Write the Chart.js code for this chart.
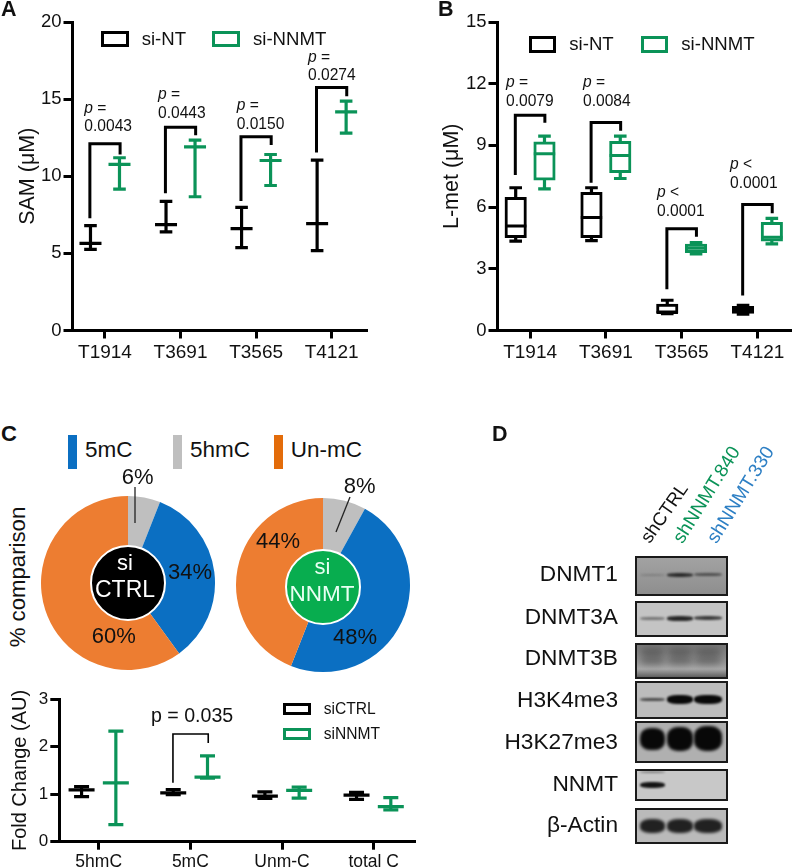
<!DOCTYPE html>
<html>
<head>
<meta charset="utf-8">
<title>NNMT panels</title>
<script src="https://cdn.jsdelivr.net/npm/chart.js@4/dist/chart.umd.min.js"></script>
<style>
  html, body { margin: 0; padding: 0; background: #fff; }
  #page { position: relative; width: 792px; height: 868px; overflow: hidden; font-family: "Liberation Sans", Arial, sans-serif; color: #111; }
  #page canvas { position: absolute; }
  .label { position: absolute; white-space: nowrap; line-height: 1; }
  .legend-box { position: absolute; box-sizing: border-box; border-style: solid; background: #fff; }
  .badge { position: absolute; box-sizing: border-box; border-radius: 50%; border: 2px solid #fff; }
  .blot { position: absolute; box-sizing: border-box; border: 2px solid #1a1a1a; overflow: hidden; }
  .band { position: absolute; border-radius: 40%; background: #000; }
  #leaders { position: absolute; left: 0; top: 0; }
</style>
</head>
<body>
<div id="page"></div>
<script>
const BLACK = '#000000';
const GREEN = '#0b9358';
const BLUE = '#0b6fc2';
const GREY = '#bfbfbf';
const ORANGE = '#ed7d31';

// Panel A, SAM (uM)
const cellLines = ['T1914', 'T3691', 'T3565', 'T4121'];
const samNtLow = [5.26, 6.4, 5.37, 5.18];
const samNtMid = [5.65, 6.86, 6.6, 6.93];
const samNtHigh = [6.8, 8.37, 7.98, 11.05];
const samKdLow = [9.17, 8.67, 9.4, 12.8];
const samKdMid = [10.77, 11.9, 11.02, 14.17];
const samKdHigh = [11.2, 12.34, 11.41, 14.87];
const samBracketLeft = [7.27, 8.89, 8.39, 11.54];
const samBracketTop = [12.1, 13.18, 12.56, 15.75];
const samBracketRight = [11.41, 12.66, 12.02, 15.19];
const samPValues = ['0.0043', '0.0443', '0.0150', '0.0274'];
const samPSigns = ['=', '=', '=', '='];

// Panel B, L-met (uM)
const metNtLow = [4.35, 4.37, 0.82, 0.8];
const metNtQ1 = [4.51, 4.51, 0.84, 0.83];
const metNtMid = [5.08, 5.5, 0.87, 1.0];
const metNtQ3 = [6.47, 6.72, 1.28, 1.17];
const metNtHigh = [6.94, 6.94, 1.47, 1.22];
const metKdLow = [6.89, 7.39, 3.72, 4.21];
const metKdQ1 = [7.31, 7.67, 3.78, 4.34];
const metKdMid = [8.59, 8.51, 4.0, 4.53];
const metKdQ3 = [9.17, 9.2, 4.2, 5.26];
const metKdHigh = [9.45, 9.45, 4.27, 5.45];
const metBracketLeft = [7.56, 7.18, 2.0, 1.7];
const metBracketTop = [10.47, 10.11, 4.95, 6.13];
const metBracketRight = [10.1, 9.71, 4.56, 5.7];
const metPValues = ['0.0079', '0.0084', '0.0001', '0.0001'];
const metPSigns = ['=', '=', '<', '<'];

// Panel C, pies
const pieLabels = ['5hmC', '5mC', 'Un-mC'];
const pieCtrl = [6, 34, 60];
const pieNnmt = [8, 48, 44];

// Panel C, fold change
const foldCategories = ['5hmC', '5mC', 'Unm-C', 'total C'];
const foldCtrlLow = [0.95, 0.99, 0.91, 0.89];
const foldCtrlMid = [1.09, 1.03, 0.96, 0.98];
const foldCtrlHigh = [1.16, 1.10, 1.05, 1.04];
const foldKdLow = [0.36, 1.34, 0.92, 0.67];
const foldKdMid = [1.24, 1.36, 1.08, 0.74];
const foldKdHigh = [2.33, 1.81, 1.15, 0.93];

// Panel D, band darkness per lane
const blotNames = ['DNMT1', 'DNMT3A', 'DNMT3B', 'H3K4me3', 'H3K27me3', 'NNMT', '\u03b2-Actin'];
const blotDarkness = [
  [0.16, 0.72, 0.48],
  [0.4, 0.8, 0.7],
  [0.28, 0.28, 0.28],
  [0.6, 0.95, 0.95],
  [0.95, 0.95, 0.95],
  [0.9, 0, 0],
  [0.82, 0.82, 0.82]
];

const page = document.getElementById('page');

function addLabel(text, x, y, opts = {}) {
  const el = document.createElement('div');
  el.className = 'label';
  el.innerHTML = text;
  el.style.left = x + 'px';
  el.style.top = y + 'px';
  el.style.fontSize = (opts.size || 19) + 'px';
  if (opts.color) el.style.color = opts.color;
  if (opts.bold) el.style.fontWeight = 'bold';
  if (opts.rotate) {
    el.style.transformOrigin = opts.origin || '0 50%';
    el.style.transform = `translate(${opts.centered ? '-50%' : '0'}, -50%) rotate(${opts.rotate}deg)`;
  } else if (opts.align === 'right') {
    el.style.transform = 'translate(-100%, -50%)';
  } else if (opts.align === 'center') {
    el.style.transform = 'translate(-50%, -50%)';
  } else {
    el.style.transform = 'translateY(-50%)';
  }
  page.appendChild(el);
}

function addLegendBox(x, y, w, h, color, thick = 3) {
  const el = document.createElement('div');
  el.className = 'legend-box';
  el.style.cssText = `left:${x}px;top:${y}px;width:${w}px;height:${h}px;border-color:${color};border-width:${thick}px`;
  page.appendChild(el);
}

function addSwatch(x, y, w, h, color) {
  const el = document.createElement('div');
  el.style.cssText = `position:absolute;left:${x}px;top:${y}px;width:${w}px;height:${h}px;background:${color}`;
  page.appendChild(el);
}

function addCanvas(x, y, w, h) {
  const canvas = document.createElement('canvas');
  canvas.width = w;
  canvas.height = h;
  canvas.style.left = x + 'px';
  canvas.style.top = y + 'px';
  canvas.style.width = w + 'px';
  canvas.style.height = h + 'px';
  page.appendChild(canvas);
  return canvas;
}

// whisker line with a cap at both ends and a longer median mark
function whiskerSet(offset, lows, mids, highs, color, capRadius, midRadius, width) {
  const data = [];
  lows.forEach((low, i) => {
    data.push({ x: i + offset, y: low, r: capRadius });
    if (mids) data.push({ x: i + offset, y: mids[i], r: midRadius });
    data.push({ x: i + offset, y: highs[i], r: capRadius });
    data.push({ x: i + offset, y: null, r: 0 });
  });
  return {
    type: 'scatter', data, showLine: true, spanGaps: false,
    borderColor: color, borderWidth: width, order: 3,
    pointStyle: 'line', pointBorderColor: color, pointBorderWidth: width,
    pointRadius: ctx => ctx.raw ? ctx.raw.r : 0
  };
}

function medianSet(offset, mids, color, radius, width) {
  return {
    type: 'scatter', data: mids.map((y, i) => ({ x: i + offset, y })),
    showLine: false, order: 1, pointStyle: 'line',
    pointBorderColor: color, pointBorderWidth: width, pointRadius: radius
  };
}

function boxSet(offset, q1, q3, color, thickness, width) {
  return {
    type: 'bar', data: q1.map((low, i) => ({ x: i + offset, y: [low, q3[i]] })),
    grouped: false, barThickness: thickness, order: 2,
    backgroundColor: '#ffffff', borderColor: color, borderWidth: width, borderSkipped: false
  };
}

function bracketSets(left, top, right, spread, width) {
  return left.map((y, i) => ({
    type: 'scatter', showLine: true, order: 4, pointRadius: 0,
    borderColor: BLACK, borderWidth: width,
    data: [
      { x: i - spread, y },
      { x: i - spread, y: top[i] },
      { x: i + spread, y: top[i] },
      { x: i + spread, y: right[i] }
    ]
  }));
}

function axisChart(canvas, datasets, cfg) {
  return new Chart(canvas, {
    type: 'scatter',
    data: { datasets },
    options: {
      responsive: false,
      animation: false,
      layout: { padding: { left: 0, top: cfg.top, right: cfg.right, bottom: 0 } },
      plugins: { legend: { display: false }, tooltip: { enabled: false } },
      scales: {
        x: {
          type: 'linear', min: -0.43, max: cfg.xMax, offset: false,
          border: { color: BLACK, width: 3 },
          grid: { offset: false, drawOnChartArea: false, color: BLACK, lineWidth: 3, tickLength: 8 },
          ticks: {
            color: '#111', autoSkip: false, maxRotation: 0, padding: cfg.xPad,
            font: { size: cfg.xFont, family: 'Liberation Sans' },
            callback: v => cfg.categories[v]
          },
          afterBuildTicks: axis => { axis.ticks = cfg.categories.map((c, i) => ({ value: i })); },
          afterFit: axis => { axis.height = cfg.xHeight; }
        },
        y: {
          min: 0, max: cfg.yMax,
          border: { color: BLACK, width: 3 },
          grid: { drawOnChartArea: false, color: BLACK, lineWidth: 3, tickLength: 9 },
          ticks: { color: '#111', stepSize: cfg.yStep, padding: 2, font: { size: cfg.yFont, family: 'Liberation Sans' } },
          title: {
            display: true, text: cfg.title, color: '#111', padding: { top: cfg.titlePad, bottom: 0 },
            font: { size: cfg.titleFont, family: 'Liberation Sans' }
          },
          afterFit: axis => { axis.width = cfg.yWidth; }
        }
      }
    }
  });
}

function pieChart(canvas, values) {
  return new Chart(canvas, {
    type: 'doughnut',
    data: {
      labels: pieLabels,
      datasets: [{ data: values, backgroundColor: [GREY, BLUE, ORANGE], borderWidth: 0 }]
    },
    options: {
      responsive: false,
      animation: false,
      cutout: '40%',
      layout: { padding: 3 },
      plugins: { legend: { display: false }, tooltip: { enabled: false } }
    }
  });
}

function addPLabels(xs, ys, signs, values) {
  values.forEach((value, i) => {
    addLabel(`<i>p</i> ${signs[i]}`, xs[i], ys[i] - 18.7, { size: 15.6 });
    addLabel(value, xs[i], ys[i], { size: 15.6 });
  });
}

// Panel A
axisChart(addCanvas(0, 0, 396, 370), [
  ...bracketSets(samBracketLeft, samBracketTop, samBracketRight, 0.2, 3),
  whiskerSet(-0.192, samNtLow, samNtMid, samNtHigh, BLACK, 6.3, 11, 3.2),
  whiskerSet(0.192, samKdLow, samKdMid, samKdHigh, GREEN, 6.3, 11, 3.2)
], {
  top: 22, right: 30, xMax: 3.455, xHeight: 39.5, xPad: 3, xFont: 19, yMax: 20, yStep: 5, yFont: 18.5,
  yWidth: 72.5, title: 'SAM (\u03bcM)', titleFont: 21.5, titlePad: 15, categories: cellLines
});
addLabel('A', 1, 10, { size: 21.5, bold: true });
addLegendBox(100.5, 31, 28, 16, BLACK);
addLabel('si-NT', 141.7, 38.7, { size: 18.6 });
addLegendBox(212, 31, 28, 16, GREEN);
addLabel('si-NNMT', 253, 38.7, { size: 18.6 });
addPLabels([84.3, 158, 236.7, 308], [126.4, 112.7, 123.7, 75.4], samPSigns, samPValues);

// Panel B, canvas runs past the page edge so the last tick label does not squeeze the axis
axisChart(addCanvas(396, 0, 430, 370), [
  ...bracketSets(metBracketLeft, metBracketTop, metBracketRight, 0.195, 3),
  whiskerSet(-0.19, metNtLow, null, metNtHigh, BLACK, 6.3, 6.3, 3.2),
  whiskerSet(0.19, metKdLow, null, metKdHigh, GREEN, 6.3, 6.3, 3.2),
  boxSet(-0.19, metNtQ1, metNtQ3, BLACK, 21.5, 3),
  boxSet(0.19, metKdQ1, metKdQ3, GREEN, 21.5, 3),
  medianSet(-0.19, metNtMid, BLACK, 10.7, 3),
  medianSet(0.19, metKdMid, GREEN, 10.7, 3)
], {
  top: 22, right: 34, xMax: 3.456, xHeight: 39.5, xPad: 3, xFont: 19, yMax: 15, yStep: 3, yFont: 18.5,
  yWidth: 101.5, title: 'L-met (\u03bcM)', titleFont: 21.5, titlePad: 43.5, categories: cellLines
});
addLabel('B', 438, 10, { size: 21.5, bold: true });
addLegendBox(528.5, 36, 27.5, 16.5, BLACK);
addLabel('si-NT', 569.3, 43.7, { size: 18.6 });
addLegendBox(640.5, 36, 27.5, 16.5, GREEN);
addLabel('si-NNMT', 681.3, 43.7, { size: 18.6 });
addPLabels([506, 583, 657, 730], [101, 101, 211, 183], metPSigns, metPValues);

// Panel C pies
addLabel('C', 1, 434, { size: 22, bold: true });
addSwatch(68, 435, 9, 34, BLUE);
addLabel('5mC', 85, 450, { size: 22.5 });
addSwatch(173, 435, 9, 34, GREY);
addLabel('5hmC', 190, 450, { size: 22.5 });
addSwatch(274, 435, 9, 34, '#e36c0a');
addLabel('Un-mC', 290.7, 450, { size: 22.5 });
addLabel('% comparison', 18.3, 577, { size: 22.2, rotate: -90, centered: true, origin: '50% 50%' });

pieChart(addCanvas(38, 493, 180, 180), pieCtrl);
pieChart(addCanvas(233, 495, 180, 180), pieNnmt);

const badgeCtrl = document.createElement('div');
badgeCtrl.className = 'badge';
badgeCtrl.style.cssText = 'left:90px;top:545px;width:76px;height:76px;background:#000';
page.appendChild(badgeCtrl);
const badgeNnmt = document.createElement('div');
badgeNnmt.className = 'badge';
badgeNnmt.style.cssText = 'left:285px;top:548.5px;width:76px;height:76px;background:#08ad4f';
page.appendChild(badgeNnmt);
addLabel('si', 125, 563, { size: 22, color: '#fff', align: 'center' });
addLabel('CTRL', 125, 589.3, { size: 23, color: '#fff', align: 'center' });
addLabel('si', 322.5, 567.3, { size: 22, color: '#e8fff2', align: 'center' });
addLabel('NNMT', 322, 594, { size: 22.5, color: '#e8fff2', align: 'center' });

addLabel('6%', 137.7, 477.3, { size: 22, align: 'center' });
addLabel('34%', 190, 571.7, { size: 22, align: 'center' });
addLabel('60%', 113.7, 636, { size: 22, align: 'center' });
addLabel('8%', 359.7, 486, { size: 22, align: 'center' });
addLabel('44%', 278, 540.7, { size: 22, align: 'center' });
addLabel('48%', 355, 636.7, { size: 22, align: 'center' });

page.insertAdjacentHTML('beforeend', `<svg id="leaders" width="792" height="868">
  <line x1="135" y1="487" x2="135" y2="523" stroke="#222" stroke-width="1.3"/>
  <line x1="350" y1="497" x2="336" y2="532" stroke="#222" stroke-width="1.3"/>
</svg>`);

// Panel C fold change
axisChart(addCanvas(0, 680, 440, 188), [
  ...bracketSets([1.24], [2.27], [2.08], 0, 1.6).map(set => ({
    ...set,
    data: [{ x: 0.81, y: 1.24 }, { x: 0.81, y: 2.27 }, { x: 1.195, y: 2.27 }, { x: 1.195, y: 2.08 }]
  })),
  whiskerSet(-0.187, foldCtrlLow, foldCtrlMid, foldCtrlHigh, BLACK, 7.5, 13, 3.2),
  whiskerSet(0.187, foldKdLow, foldKdMid, foldKdHigh, GREEN, 7.5, 13, 3.2)
], {
  top: 19.3, right: 26, xMax: 3.44, xHeight: 26.3, xPad: 2, xFont: 17.5, yMax: 3, yStep: 1, yFont: 17,
  yWidth: 59.3, title: 'Fold Change (AU)', titleFont: 20, titlePad: 8, categories: foldCategories
});
addLabel('p = 0.035', 151, 715.7, { size: 19.6 });
addLegendBox(282.7, 702.5, 28, 12, BLACK);
addLabel('siCTRL', 323.7, 709, { size: 15.6 });
addLegendBox(282.7, 728.3, 28, 12, GREEN);
addLabel('siNNMT', 323.7, 734.3, { size: 15.6 });

// Panel D
addLabel('D', 492, 435, { size: 21.5, bold: true });
addLabel('shCTRL', 645, 541, { size: 18.6, rotate: -55 });
addLabel('shNNMT.840', 677, 541, { size: 19, color: GREEN, rotate: -58 });
addLabel('shNNMT.330', 711, 541, { size: 19, color: '#2d7fc4', rotate: -58 });

const blotTops = [556, 600.7, 643.3, 681.3, 721, 768.7, 808.3];
const blotBottoms = [596, 637.3, 678.7, 718.7, 762.7, 801, 844];
const blotLabelY = [573.3, 615.7, 656.7, 699.3, 741, 782.7, 824.3];
const blotBackground = [
  'linear-gradient(#a2a2a2, #8e8e8e)', '#c4c4c4',
  'linear-gradient(#777, #8c8c8c 40%, #a8a8a8 75%, #5f5f5f)',
  '#bcbcbc', '#b0b0b0', '#c8c8c8', '#bababa'
];
const bandCenter = [[0.47], [0.48], [0.22, 0.5], [0.48], [0.42], [0.05, 0.5], [0.49]];
// band heights per lane
const bandHeight = [
  [[2.5, 3.5, 3]],
  [[3, 4.5, 4]],
  [[8, 8, 8], [8, 8, 8]],
  [[3, 8.5, 8.5]],
  [[22, 24, 25]],
  [[2, 0, 0], [6, 0, 0]],
  [[14, 14, 14]]
];
const bandBlur = [1, 1, 3, 1.2, 1.8, 1, 1.6];
const laneLeft = [3, 30, 57];
const laneWidth = [25, 26, 28];

blotNames.forEach((name, row) => {
  addLabel(name, 618, blotLabelY[row], { size: 22.7, align: 'right' });
  const box = document.createElement('div');
  box.className = 'blot';
  const h = blotBottoms[row] - blotTops[row];
  box.style.cssText = `left:635px;top:${blotTops[row]}px;width:92.5px;height:${h}px;background:${blotBackground[row]}`;
  bandCenter[row].forEach((c, b) => {
    blotDarkness[row].forEach((dark, lane) => {
      if (!dark) return;
      const band = document.createElement('div');
      band.className = 'band';
      const bh = bandHeight[row][b][lane];
      const faint = row === 5 && b === 0 ? 0.4 : 1;
      band.style.cssText = `left:${laneLeft[lane]}px;top:${c * (h - 4) - bh / 2}px;width:${laneWidth[lane]}px;height:${bh}px;opacity:${dark * faint};filter:blur(${bandBlur[row]}px)`;
      box.appendChild(band);
    });
  });
  page.appendChild(box);
});
</script>
</body>
</html>
